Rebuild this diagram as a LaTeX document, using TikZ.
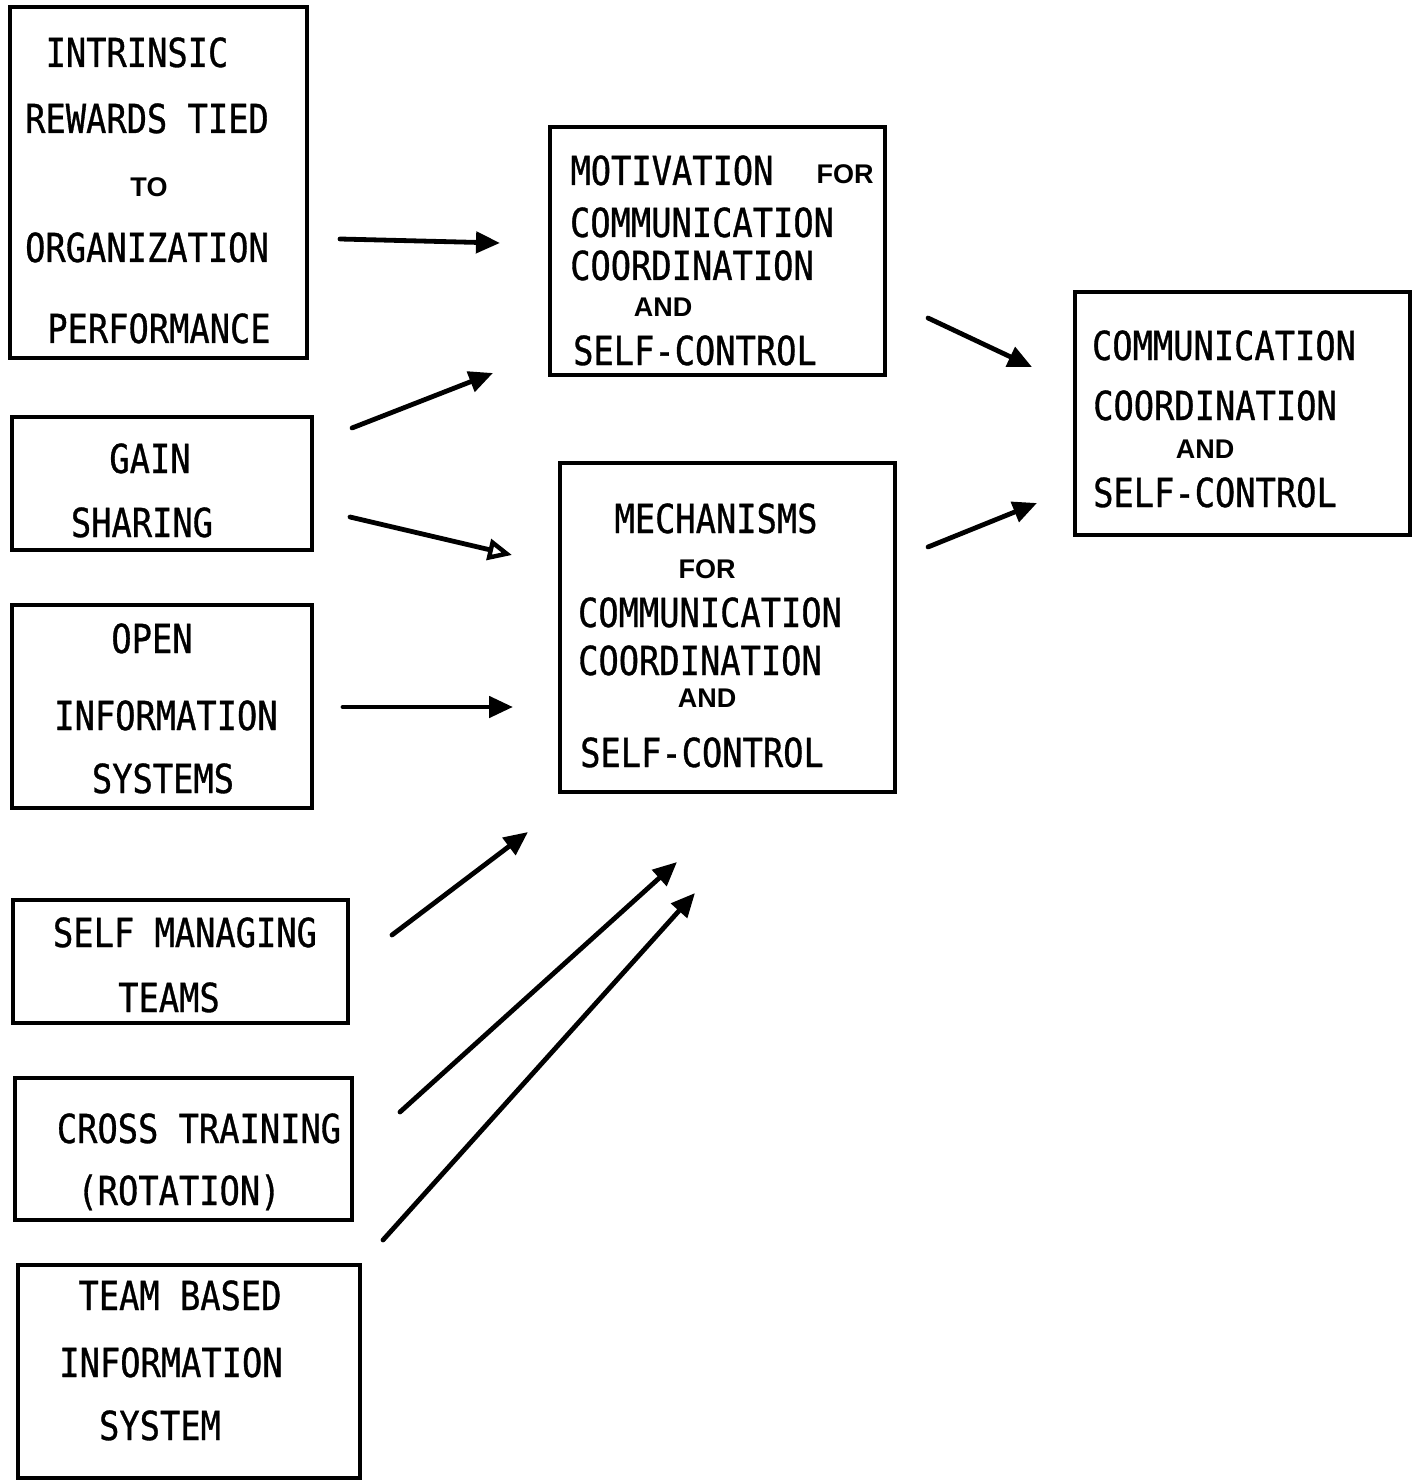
\documentclass[tikz,border=0pt]{standalone}
\usepackage{fontspec}
\usetikzlibrary{arrows.meta,fit}
\newfontfamily\twfont[FakeStretch=0.843,FakeBold=0.8]{DejaVu Sans Mono}
\newfontfamily\smfont{Liberation Sans}
\tikzset{
  box/.style={draw, line width=2pt, inner sep=0pt},
  tw/.style={inner sep=0pt, anchor=base, font=\twfont\fontsize{20pt}{24pt}\selectfont},
  sm/.style={inner sep=0pt, anchor=base, font=\smfont\bfseries\fontsize{13.5pt}{16pt}\selectfont},
  conn/.style={line width=2.4pt, line cap=round, -{Triangle[length=12pt,width=10.5pt]}},
  connopen/.style={line width=2.4pt, line cap=round, -{Triangle[open,length=12pt,width=10.5pt,line width=2.2pt]}}
}
\begin{document}
\begin{tikzpicture}[x=0.5pt,y=-0.5pt]
\useasboundingbox (0,0) rectangle (1419,1481);

% ---- boxes ----
\node[box, fit={(10,7) (307,358)}] (b1) {};
\node[box, fit={(12,417) (312,550)}] (b2) {};
\node[box, fit={(12,605) (312,808)}] (b3) {};
\node[box, fit={(13,900) (348,1023)}] (b4) {};
\node[box, fit={(15,1078) (352,1220)}] (b5) {};
\node[box, fit={(18,1265) (360,1478)}] (b6) {};
\node[box, fit={(550,127) (885,375)}] (b7) {};
\node[box, fit={(560,463) (895,792)}] (b8) {};
\node[box, fit={(1075,292) (1410,535)}] (b9) {};

% ---- left column texts ----
\node[tw] (t1a) at (137,67) {INTRINSIC};
\node[tw] (t1b) at (147,133) {REWARDS TIED};
\node[sm] (t1c) at (149,197) {TO};
\node[tw] (t1d) at (147,262) {ORGANIZATION};
\node[tw] (t1e) at (159,343) {PERFORMANCE};

\node[tw] (t2a) at (150,473) {GAIN};
\node[tw] (t2b) at (142,537) {SHARING};

\node[tw] (t3a) at (152,653) {OPEN};
\node[tw] (t3b) at (166,730) {INFORMATION};
\node[tw] (t3c) at (163,793) {SYSTEMS};

\node[tw] (t4a) at (185,947) {SELF MANAGING};
\node[tw] (t4b) at (169,1012) {TEAMS};

\node[tw] (t5a) at (199,1143) {CROSS TRAINING};
\node[tw] (t5b) at (179,1205) {(ROTATION)};

\node[tw] (t6a) at (180,1310) {TEAM BASED};
\node[tw] (t6b) at (171,1377) {INFORMATION};
\node[tw] (t6c) at (160,1440) {SYSTEM};

% ---- middle column texts ----
\node[tw] (t7a) at (672,185) {MOTIVATION};
\node[sm] (t7b) at (845,184) {FOR};
\node[tw] (t7c) at (702,237) {COMMUNICATION};
\node[tw] (t7d) at (692,280) {COORDINATION};
\node[sm] (t7e) at (663,317) {AND};
\node[tw] (t7f) at (695,365) {SELF-CONTROL};

\node[tw] (t8a) at (716,533) {MECHANISMS};
\node[sm] (t8b) at (707,578) {FOR};
\node[tw] (t8c) at (710,627) {COMMUNICATION};
\node[tw] (t8d) at (700,675) {COORDINATION};
\node[sm] (t8e) at (707,707) {AND};
\node[tw] (t8f) at (702,767) {SELF-CONTROL};

% ---- right box texts ----
\node[tw] (t9a) at (1224,360) {COMMUNICATION};
\node[tw] (t9b) at (1215,420) {COORDINATION};
\node[sm] (t9c) at (1205,458) {AND};
\node[tw] (t9d) at (1215,507) {SELF-CONTROL};

% ---- arrow end points ----
\coordinate (a1s) at (340,239);  \coordinate (a1e) at (500,243);
\coordinate (a2s) at (352,428);  \coordinate (a2e) at (493,373);
\coordinate (a3s) at (350,517);  \coordinate (a3e) at (512,555);
\coordinate (a4s) at (343,707);  \coordinate (a4e) at (513,707);
\coordinate (a5s) at (928,318);  \coordinate (a5e) at (1032,367);
\coordinate (a6s) at (928,547);  \coordinate (a6e) at (1037,503);
\coordinate (a7s) at (392,935);  \coordinate (a7e) at (528,832);
\coordinate (a8s) at (400,1112); \coordinate (a8e) at (677,862);
\coordinate (a9s) at (383,1240); \coordinate (a9e) at (695,893);

% ---- arrows ----
\draw[conn] (a1s) -- (a1e);
\draw[conn] (a2s) -- (a2e);
\draw[connopen] (a3s) -- (a3e);
\draw[conn] (a4s) -- (a4e);
\draw[conn] (a5s) -- (a5e);
\draw[conn] (a6s) -- (a6e);
\draw[conn] (a7s) -- (a7e);
\draw[conn] (a8s) -- (a8e);
\draw[conn] (a9s) -- (a9e);
\end{tikzpicture}
\end{document}
